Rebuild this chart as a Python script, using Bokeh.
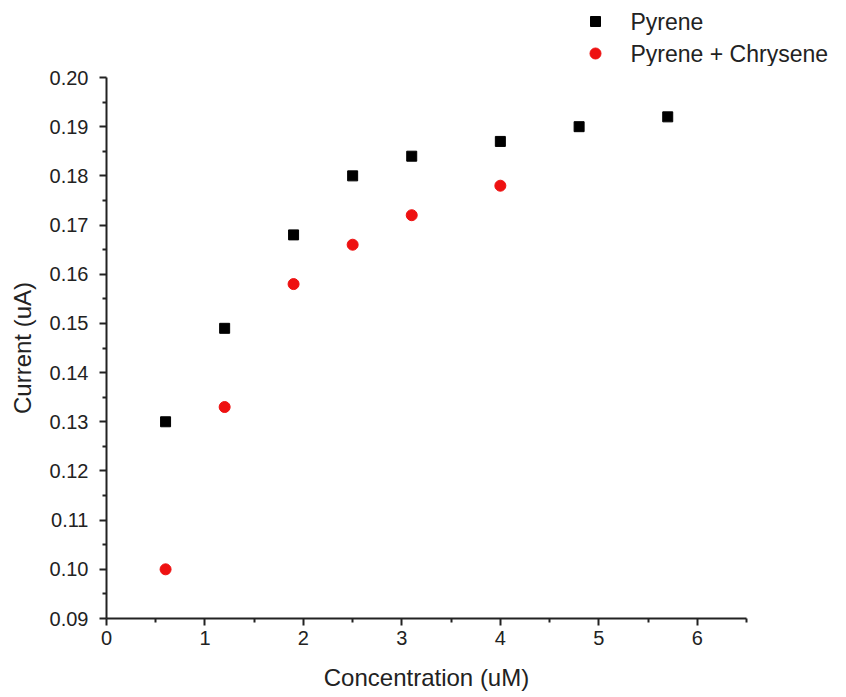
from bokeh.plotting import figure
from bokeh.layouts import column
from bokeh.models import FixedTicker, Range1d, CustomJSTickFormatter
from bokeh.core.properties import value
from bokeh.embed import file_html
from bokeh.resources import INLINE

pyrene_x = [0.6, 1.2, 1.9, 2.5, 3.1, 4.0, 4.8, 5.7]
pyrene_y = [0.130, 0.149, 0.168, 0.180, 0.184, 0.187, 0.190, 0.192]
mix_x = [0.6, 1.2, 1.9, 2.5, 3.1, 4.0]
mix_y = [0.100, 0.133, 0.158, 0.166, 0.172, 0.178]

series_labels = ["Pyrene", "Pyrene + Chrysene"]
x_ticks = [0, 1, 2, 3, 4, 5, 6]
y_ticks = [0.09, 0.10, 0.11, 0.12, 0.13, 0.14, 0.15, 0.16, 0.17, 0.18, 0.19, 0.20]

FONT = "Liberation Sans"
TXT = "#222222"
RED = "#ee1111"

# ---- legend strip (separate figure above the plot) ----
W, LH = 846, 66
lg = figure(width=W, height=LH, output_backend="svg", toolbar_location=None,
            x_range=Range1d(0, W), y_range=Range1d(LH, 0),
            min_border=0, min_border_left=0, min_border_right=0,
            min_border_top=0, min_border_bottom=0, outline_line_color=None)
lg.axis.visible = False
lg.grid.visible = False
row_y = [21, 53]
lg.scatter([595], [row_y[0]], marker="square", size=10, color="black")
lg.scatter([595], [row_y[1]], marker="circle", size=11, color=RED)
lg.text([630, 630], row_y, text=series_labels, text_font=value(FONT),
        text_font_size="23px", text_color=TXT, text_baseline="middle", text_align="left")

# ---- main plot ----
p = figure(width=W, height=697 - LH, output_backend="svg", toolbar_location=None,
           x_range=Range1d(0, 6.5), y_range=Range1d(0.09, 0.20),
           min_border_left=106, min_border_right=100, min_border_top=77 - LH, min_border_bottom=79)
p.outline_line_color = None
p.xgrid.visible = False
p.ygrid.visible = False

for fig in (lg, p):
    if hasattr(fig, "frame_align"):
        fig.frame_align = False

p.xaxis.ticker = FixedTicker(ticks=x_ticks, minor_ticks=[0.5, 1.5, 2.5, 3.5, 4.5, 5.5, 6.5])
p.yaxis.ticker = FixedTicker(ticks=y_ticks, minor_ticks=[0.095 + 0.01 * i for i in range(11)])
p.yaxis.formatter = CustomJSTickFormatter(code="return tick.toFixed(2);")

for ax in (p.xaxis[0], p.yaxis[0]):
    ax.axis_line_color = TXT
    ax.axis_line_width = 2
    ax.major_tick_line_color = TXT
    ax.major_tick_line_width = 2
    ax.minor_tick_line_color = TXT
    ax.minor_tick_line_width = 2
    ax.major_tick_out = 7
    ax.major_tick_in = 0
    ax.minor_tick_out = 4
    ax.minor_tick_in = 0
    ax.major_label_text_font = FONT
    ax.major_label_text_font_size = "20px"
    ax.major_label_text_color = TXT
    ax.axis_label_text_font = FONT
    ax.axis_label_text_font_size = "24px"
    ax.axis_label_text_font_style = "normal"
    ax.axis_label_text_color = TXT

p.xaxis.major_label_standoff = 5
p.yaxis.major_label_standoff = 11
p.xaxis.axis_label = "Concentration (uM)"
p.yaxis.axis_label = "Current (uA)"
p.xaxis.axis_label_standoff = 16
p.yaxis.axis_label_standoff = 11

p.scatter(pyrene_x, pyrene_y, marker="square", size=10, color="black")
p.scatter(mix_x, mix_y, marker="circle", size=11, color=RED)

layout = column(lg, p, spacing=0)
open("out.html", "w").write(file_html(layout, INLINE))
